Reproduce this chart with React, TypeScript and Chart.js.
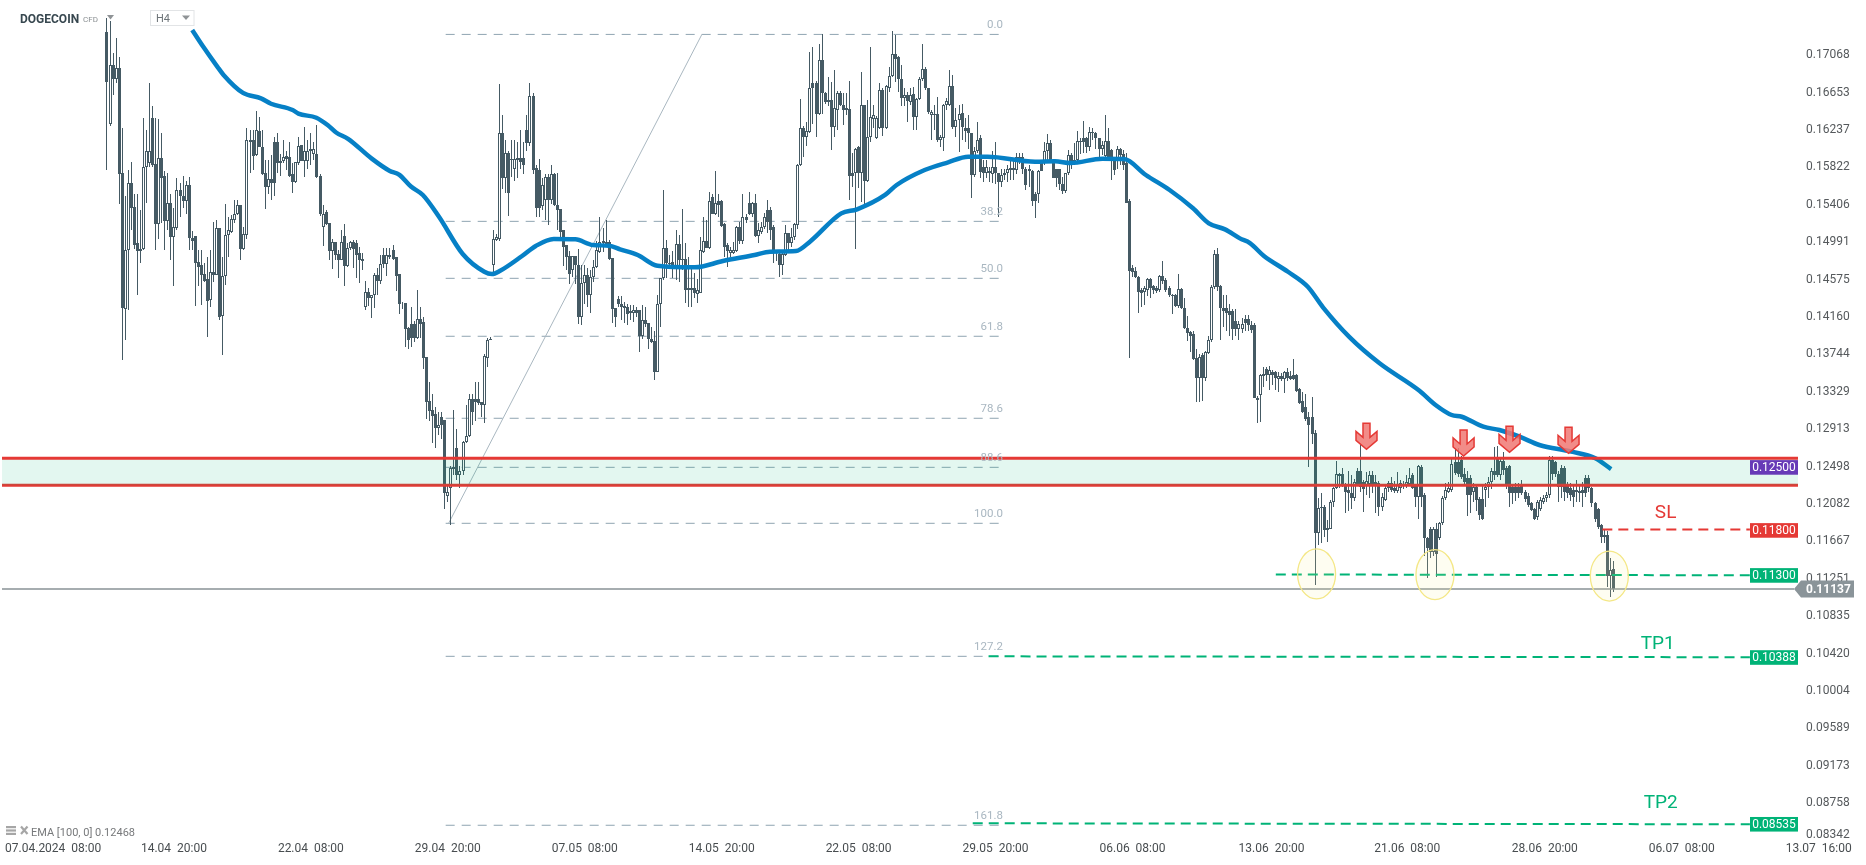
import React, { useEffect, useRef } from "react";
import { Chart, registerables } from "chart.js";

Chart.register(...registerables);

// Candle rows are [open, high, low, close], in units of 0.0001 price.
const PRICE_UNIT = 1e-4;

const candlesRunA = [
[1733,1748,1579,1677],[1631,1745,1628,1696],[1696,1709,1663,1681],[1681,1726,1676,1693],[1693,1705,1542,1575],[1576,1626,1368,1426],[1425,1550,1390,1490],[1490,1579,1424,1565],[1565,1588,1513,1537],[1538,1553,1492,1496],
[1498,1553,1440,1489],[1489,1535,1476,1492],[1492,1637,1490,1583],[1583,1624,1543,1600],[1587,1676,1583,1600],[1637,1650,1583,1585],[1586,1637,1490,1519],[1519,1636,1503,1593],[1593,1620,1520,1571],[1573,1578,1490,1523],
[1523,1576,1513,1543],[1543,1553,1479,1505],[1505,1537,1450,1516],[1515,1570,1513,1557],[1557,1565,1527,1550],[1551,1573,1537,1545],[1545,1567,1530,1563],[1563,1572,1490,1504],[1504,1512,1490,1500],[1506,1506,1428,1476],
[1477,1490,1450,1472],[1474,1490,1429,1463],[1464,1476,1455,1456],[1458,1483,1394,1434],[1435,1490,1427,1466],[1466,1522,1455,1463],[1463,1524,1463,1515],[1515,1515,1413,1416],[1417,1483,1374,1462],[1462,1542,1452,1507],
[1507,1527,1483,1513],[1511,1529,1509,1525],[1524,1546,1520,1530],[1531,1546,1529,1540],[1540,1540,1479,1492],[1492,1516,1490,1508],[1507,1626,1503,1613],[1613,1624,1576,1610],[1613,1624,1579,1595],[1596,1645,1595,1624],
[1623,1638,1605,1605],[1605,1624,1574,1575],[1576,1590,1536,1561],[1561,1590,1553,1569],[1569,1596,1546,1565],[1611,1616,1551,1565],[1611,1620,1576,1587],[1587,1597,1573,1589],[1589,1613,1587,1594],[1595,1601,1579,1592],
[1594,1611,1572,1573],[1575,1587,1554,1566],[1566,1588,1565,1588],[1587,1616,1585,1606],[1607,1607,1589,1589],[1589,1627,1572,1601],[1589,1613,1580,1601],[1603,1620,1585,1600],[1597,1610,1590,1603],[1597,1629,1570,1572],
];

const candlesRunB = [
[1573,1575,1528,1531],[1516,1540,1495,1531],[1533,1535,1518,1519],[1520,1520,1479,1489],[1489,1503,1469,1499],[1499,1499,1479,1485],[1486,1490,1459,1479],[1479,1513,1479,1499],[1506,1519,1450,1473],[1473,1498,1472,1493],
[1493,1500,1490,1499],[1499,1502,1470,1492],[1498,1502,1459,1485],[1487,1494,1454,1479],[1481,1487,1468,1478],[1427,1456,1424,1444],[1444,1448,1428,1437],[1437,1440,1415,1440],[1440,1465,1426,1463],[1463,1471,1440,1456],
[1456,1485,1453,1475],[1485,1493,1471,1475],[1475,1493,1462,1485],[1483,1493,1480,1485],[1491,1496,1479,1481],[1483,1483,1445,1462],[1464,1464,1419,1431],[1431,1433,1425,1430],[1432,1432,1383,1403],[1404,1405,1381,1391],
[1408,1427,1383,1393],[1408,1412,1388,1393],[1393,1446,1392,1414],[1414,1427,1393,1408],[1410,1416,1358,1370],[1372,1372,1303,1322],[1323,1344,1301,1312],[1313,1330,1276,1306],[1308,1316,1270,1293],[1293,1310,1285,1296],
[1305,1310,1280,1296],[1302,1302,1203,1220],[1217,1230,1210,1222],[1226,1250,1185,1248],[1247,1313,1240,1249],[1271,1292,1235,1240],[1240,1250,1226,1245],[1245,1278,1240,1277],[1277,1318,1276,1284],[1284,1330,1283,1325],
[1325,1330,1296,1310],[1325,1344,1301,1322],[1325,1344,1318,1320],[1322,1322,1305,1318],[1318,1375,1298,1373],[1371,1393,1361,1391],[1391,1394,1390,1392],
];

const candlesRunC = [
[1474,1513,1462,1503],[1502,1508,1500,1505],[1503,1675,1500,1620],[1620,1641,1558,1570],[1570,1613,1554,1598],[1598,1600,1528,1554],[1590,1613,1572,1592],[1580,1613,1567,1592],[1590,1610,1570,1593],[1593,1624,1580,1588],
[1593,1610,1575,1585],[1624,1640,1600,1609],[1609,1676,1606,1662],[1662,1665,1575,1579],[1582,1585,1527,1537],
];

const candlesRunD = [
[1579,1592,1527,1537],[1539,1570,1535,1563],[1546,1575,1524,1572],[1572,1575,1518,1546],[1546,1585,1542,1575],[1575,1576,1539,1540],[1541,1576,1513,1535],[1536,1536,1505,1511],[1513,1513,1473,1494],[1496,1496,1468,1483],
[1484,1489,1453,1464],[1468,1484,1461,1484],[1484,1484,1453,1474],[1474,1492,1408,1416],[1416,1474,1407,1454],[1454,1474,1431,1463],[1463,1470,1427,1441],[1440,1468,1420,1461],[1461,1479,1455,1472],[1472,1501,1470,1490],
[1488,1527,1487,1499],[1498,1515,1488,1500],[1497,1524,1494,1499],[1499,1502,1479,1481],[1482,1482,1409,1425],[1426,1426,1405,1416],[1436,1439,1427,1430],[1431,1439,1413,1427],[1428,1433,1409,1426],[1427,1431,1407,1419],
[1420,1429,1413,1423],[1420,1429,1411,1424],[1424,1427,1416,1421],[1424,1424,1377,1395],[1395,1429,1392,1413],[1413,1427,1405,1408],[1409,1409,1381,1392],[1392,1405,1387,1388],[1389,1400,1346,1355],[1355,1440,1355,1431],
[1431,1459,1405,1459],[1459,1557,1457,1493],[1493,1502,1459,1476],[1476,1485,1470,1475],[1477,1489,1459,1469],[1469,1513,1457,1497],[1497,1507,1455,1479],[1481,1536,1468,1479],[1481,1498,1432,1446],[1446,1483,1427,1448],
[1446,1470,1427,1448],[1448,1465,1437,1443],[1442,1458,1432,1446],[1443,1505,1443,1490],[1488,1527,1487,1500],[1500,1524,1493,1493],[1493,1555,1492,1545],[1549,1553,1530,1530],[1530,1578,1529,1543],[1545,1553,1527,1540],
[1545,1546,1516,1517],[1519,1520,1483,1494],[1496,1498,1472,1489],[1487,1494,1483,1490],[1487,1499,1486,1490],[1489,1517,1488,1516],[1516,1522,1497,1500],[1500,1553,1497,1527],[1527,1530,1520,1524],[1543,1555,1529,1530],
[1530,1544,1527,1543],[1543,1553,1505,1506],[1506,1521,1498,1513],
];

const candlesRunE = [
[1511,1522,1508,1516],[1516,1532,1514,1527],[1535,1546,1509,1522],[1535,1538,1502,1513],[1516,1518,1476,1489],[1490,1490,1478,1488],[1486,1490,1461,1474],[1474,1488,1463,1486],[1485,1518,1484,1509],[1509,1509,1487,1498],
[1498,1515,1494,1505],[1505,1520,1502,1519],[1518,1586,1514,1585],[1585,1658,1584,1626],[1626,1628,1594,1616],[1616,1633,1606,1623],[1622,1711,1620,1671],[1676,1716,1631,1670],[1676,1678,1616,1642],[1642,1719,1640,1702],
[1702,1730,1642,1665],[1665,1666,1653,1655],[1655,1683,1650,1657],[1657,1677,1602,1627],[1627,1690,1616,1648],[1646,1667,1624,1665],[1665,1667,1650,1652],[1652,1665,1629,1646],[1646,1665,1640,1648],[1647,1678,1546,1573],
[1576,1598,1561,1573],[1576,1604,1492,1603],[1605,1606,1559,1576],[1576,1688,1544,1652],[1652,1652,1537,1567],[1567,1657,1566,1616],[1616,1716,1611,1638],[1636,1652,1626,1641],[1615,1639,1614,1637],[1626,1676,1625,1668],
[1668,1670,1617,1626],[1626,1674,1625,1673],[1671,1694,1666,1684],[1684,1734,1683,1708],[1708,1729,1677,1703],[1705,1706,1666,1680],[1681,1696,1650,1659],[1659,1670,1650,1663],[1663,1666,1633,1656],[1655,1670,1652,1663],
[1664,1672,1624,1638],[1638,1659,1624,1658],[1658,1683,1657,1681],[1680,1719,1678,1692],[1692,1694,1668,1670],[1670,1670,1642,1644],[1641,1646,1613,1644],[1642,1652,1624,1640],[1642,1661,1611,1613],[1613,1618,1605,1616],
[1615,1653,1600,1652],[1652,1659,1646,1656],[1652,1691,1650,1673],[1673,1685,1625,1627],[1627,1648,1616,1635],[1635,1652,1599,1642],[1643,1653,1613,1627],[1626,1637,1610,1623],[1626,1640,1603,1620],[1621,1621,1548,1574],
[1574,1605,1572,1601],[1600,1633,1598,1613],
];

const candlesRunF = [
[1615,1618,1570,1577],[1583,1590,1566,1576],[1576,1590,1570,1583],[1576,1583,1566,1578],[1575,1600,1565,1583],[1583,1610,1564,1576],[1576,1576,1527,1566],[1566,1581,1560,1574],[1574,1581,1568,1576],[1576,1585,1566,1580],
[1579,1590,1568,1582],[1582,1592,1568,1579],[1579,1598,1575,1594],[1594,1598,1586,1590],[1594,1598,1575,1580],[1581,1583,1557,1563],[1581,1585,1560,1578],[1578,1579,1539,1545],[1553,1555,1526,1545],[1553,1579,1543,1578],
[1589,1590,1578,1578],[1587,1610,1585,1601],[1600,1619,1590,1609],[1609,1613,1588,1590],[1590,1591,1570,1571],[1580,1581,1560,1571],[1580,1581,1557,1564],[1564,1572,1553,1556],[1556,1576,1554,1576],[1576,1602,1574,1596],
[1596,1598,1581,1587],[1587,1609,1585,1590],[1590,1623,1589,1612],[1610,1615,1597,1612],[1615,1634,1598,1611],[1615,1616,1598,1605],[1605,1627,1601,1622],[1622,1626,1613,1620],[1621,1622,1603,1615],[1615,1615,1594,1603],
[1603,1612,1596,1607],[1595,1641,1594,1612],[1612,1626,1592,1594],[1602,1603,1568,1590],[1590,1594,1574,1579],[1589,1606,1581,1603],[1603,1604,1585,1596],[1597,1602,1579,1585],[1587,1598,1543,1543],[1545,1547,1370,1467],
[1470,1474,1461,1466],[1467,1472,1459,1460],[1461,1462,1420,1444],[1446,1448,1427,1443],[1444,1450,1429,1448],[1446,1459,1439,1458],[1458,1459,1437,1448],[1450,1452,1442,1446],[1448,1450,1443,1445],[1446,1463,1444,1462],
[1462,1478,1453,1456],[1457,1459,1444,1446],[1448,1450,1438,1440],[1440,1442,1419,1439],[1440,1442,1427,1428],[1428,1464,1426,1447],[1447,1448,1425,1426],[1426,1437,1403,1404],[1404,1417,1389,1398],[1399,1401,1377,1395],
[1397,1401,1368,1369],[1370,1381,1322,1348],
];

const candlesRunG = [
[1348,1375,1322,1372],[1374,1376,1323,1348],[1348,1378,1345,1377],[1376,1395,1375,1390],[1390,1452,1388,1449],[1449,1491,1447,1486],[1486,1493,1445,1449],[1450,1452,1390,1426],[1426,1440,1405,1423],[1426,1440,1400,1421],
[1423,1430,1395,1418],[1423,1425,1390,1403],[1412,1425,1395,1403],[1403,1412,1390,1408],[1403,1415,1398,1408],[1414,1418,1400,1409],[1414,1418,1400,1407],[1407,1412,1398,1402],[1407,1409,1326,1326],[1326,1328,1298,1324],
[1329,1353,1299,1352],[1350,1360,1338,1353],[1358,1361,1345,1352],[1352,1362,1335,1357],[1355,1357,1340,1352],[1355,1356,1335,1348],[1347,1355,1333,1350],[1350,1354,1345,1347],[1347,1356,1332,1355],[1355,1359,1345,1348],
[1350,1356,1346,1347],[1352,1369,1346,1347],[1352,1353,1333,1334],[1336,1337,1319,1321],[1323,1333,1309,1310],[1316,1330,1300,1303],[1305,1310,1249,1296],[1305,1327,1275,1286],[1287,1290,1118,1176],[1176,1215,1163,1204],
[1205,1220,1165,1204],[1205,1207,1172,1179],[1182,1190,1166,1179],[1181,1213,1180,1211],[1210,1227,1205,1226],[1226,1256,1225,1242],[1242,1243,1226,1239],[1242,1248,1227,1228],[1228,1232,1220,1226],
];

const candlesRunH = [
[1228,1230,1198,1222],[1224,1245,1200,1221],[1221,1240,1203,1215],[1215,1236,1212,1233],[1245,1248,1228,1230],[1245,1275,1222,1227],[1233,1235,1199,1225],[1228,1244,1218,1234],[1231,1245,1215,1240],[1240,1245,1220,1231],
[1231,1240,1198,1233],[1232,1234,1195,1205],[1205,1220,1200,1216],[1213,1230,1212,1226],[1232,1234,1222,1226],[1232,1238,1222,1224],[1226,1234,1220,1223],[1223,1244,1221,1231],[1226,1235,1220,1232],[1231,1234,1225,1229],
[1229,1240,1226,1233],[1231,1248,1228,1237],[1240,1243,1225,1226],[1228,1230,1205,1216],[1216,1252,1192,1250],
];

const candlesRunI = [
[1249,1252,1205,1216],[1218,1220,1150,1170],[1171,1172,1126,1159],[1181,1183,1148,1155],[1155,1183,1150,1181],[1181,1187,1127,1153],[1170,1188,1168,1187],[1187,1217,1185,1215],[1215,1232,1213,1224],[1222,1233,1220,1226],
[1224,1258,1222,1253],[1255,1270,1240,1243],[1255,1270,1238,1242],[1257,1262,1236,1238],[1242,1248,1230,1233],[1237,1245,1195,1218],[1237,1240,1198,1218],[1222,1232,1210,1227],[1227,1230,1200,1213],[1214,1216,1190,1196],
[1214,1228,1190,1192],[1224,1232,1205,1227],[1227,1238,1215,1233],[1233,1248,1225,1245],[1245,1272,1235,1240],[1261,1273,1238,1240],[1240,1258,1235,1256],[1256,1266,1240,1246],[1248,1250,1225,1230],[1250,1252,1205,1220],[1227,1230,1208,1220],
[1227,1232,1212,1220],[1227,1232,1215,1221],[1228,1235,1218,1221],[1222,1224,1210,1214],[1217,1220,1205,1207],[1209,1210,1200,1202],[1203,1204,1190,1192],[1194,1213,1190,1211],[1203,1216,1200,1213],[1211,1218,1208,1215],
[1215,1222,1210,1218],[1218,1262,1215,1257],[1257,1262,1235,1242],[1255,1256,1238,1242],[1242,1245,1210,1227],[1248,1252,1215,1227],[1248,1250,1212,1222],[1231,1233,1215,1220],[1226,1232,1212,1218],[1224,1228,1205,1216],
[1222,1235,1210,1224],[1223,1230,1210,1220],[1224,1233,1205,1220],[1237,1240,1216,1220],[1237,1241,1222,1226],[1226,1227,1205,1209],[1209,1210,1188,1192],[1203,1204,1180,1183],[1185,1186,1165,1172],[1174,1179,1165,1172],[1174,1178,1116,1128],
[1128,1148,1105,1135],[1136,1145,1111,1114],
];

const candleRunStarts = [23, 93, 150, 165, 238, 310, 382, 430, 455];
const candleRuns = [candlesRunA, candlesRunB, candlesRunC, candlesRunD, candlesRunE, candlesRunF, candlesRunG, candlesRunH, candlesRunI];

const emaSteps = [51,54.7,59.3,61.3,67.7,73.6,76.9,84,85.9,91.8,95.6,98.3,102.2,110,115.8,119.1,122.9,126.8,132.1,139.9,147,149.5,152.2,159.4,163.9,169.8,176.9,182.7,188,191.6,197.4,203.9,216.2,225.4,235.8,240.9,249.4,254,264.3,269.5,278.7,282.5,291.7,299.4,306,312.4,328,334.5,339.7,350.1,357.2,364.4,372.2,379.9,385.1,390.4,395.3,398.6,403.2,411.1,417.6,422.6,431.4,441.2,454.3,459.6,464.9,468.2,475.3,480.6,487.2,493.7,504.2,512.1,517.3];
const emaPrices = [.1735,.1716,.1694,.1685,.1665,.1659,.1653,.1646,.1642,.16374,.1629,.1621,.1614,.1592,.15786,.1574,.1561,.15516,.15274,.1486,.14663,.14638,.14674,.14838,.1495,.15027,.15023,.1496,.14952,.14912,.14849,.1473,.14712,.14782,.14849,.14886,.14893,.14997,.15312,.15357,.15516,.15627,.15793,.15879,.15941,.15941,.15886,.1589,.15871,.15919,.15915,.15738,.15571,.15368,.15201,.15134,.15034,.14982,.14838,.14663,.14497,.14268,.13934,.13646,.13341,.13183,.13071,.13052,.12941,.12905,.1283,.12738,.12664,.1259,.1247];

const fibLabels = ["0.0","38.2","50.0","61.8","78.6","88.6","100.0","127.2","161.8"];
const fibPrices = [.1730,.15223,.1459,.13946,.13035,.1249,.11868,.1039,.08513];
const fibStartStep = 134.3;
const fibEndStep = 316.4;
const fibTrendSteps = [135.3, 218.5];
const fibTrendPrices = [.1187, .1730];

const zoneUpper = .1259;
const zoneLower = .1229;
const zoneSteps = [-11.5, 578.7];
const lastPrice = .11137;
const lastPriceSteps = [-11.5, 577.4];

const slSteps = [514.4, 562.9];
const slPrices = [.1180, .1180];
const entrySteps = [407.1, 562.9];
const entryPrices = [.1130, .1129];
const tp1Steps = [312.7, 562.9];
const tp1Prices = [.1039, .1038];
const tp2Steps = [307.5, 562.9];
const tp2Prices = [.08535, .08524];

const tagLabels = ["0.12500","0.11800","0.11300","0.10388","0.08535"];
const tagPrices = [.125,.118,.113,.10388,.08535];
const tagColors = ["#673ab7","#e53935","#00b377","#00b377","#00b377"];

const noteTexts = ["SL","TP1","TP2"];
const noteSteps = [535.2,532.6,533.6];
const notePrices = [.1198,.10525,.08758];
const noteColors = ["#e53935","#00b377","#00b377"];

const arrowSteps = [436.9,468.8,483.9,503.3];
const arrowPrices = [.1269,.12616,.12657,.12646];

const ellipseSteps = [420.5,459.4,516.7];
const ellipsePrices = [.11305,.11297,.11282];

const yTickLabels = ["0.17068","0.16653","0.16237","0.15822","0.15406","0.14991","0.14575","0.14160","0.13744","0.13329","0.12913","0.12498","0.12082","0.11667","0.11251","0.10835","0.10420","0.10004","0.09589","0.09173","0.08758","0.08342"];
const yTickPositions = [.17068,.16653,.16237,.15822,.15406,.14991,.14575,.1416,.13744,.13329,.12913,.12498,.12082,.11667,.11251,.10835,.1042,.10004,.09589,.09173,.08758,.08405];
const xTickLabels = ["07.04.2024  08:00","14.04  20:00","22.04  08:00","29.04  20:00","07.05  08:00","14.05  20:00","22.05  08:00","29.05  20:00","06.06  08:00","13.06  20:00","21.06  08:00","28.06  20:00","06.07  08:00","13.07  16:00"];
const xTickPositions = [5.3,45,90,135,180,225,270,315,360,405.7,450.3,495.5,540.5,585.5];

const DARK = "#455a64";
const FONT = "Roboto";

const pts = (xs: number[], ys: number[]) => xs.map((x, i) => ({ x, y: ys[i] }));

export default function App() {
  const ref = useRef<HTMLCanvasElement>(null);
  useEffect(() => {
    document.body.style.margin = "0";
    document.body.style.overflow = "hidden";
    const candles: any[] = [];
    candleRuns.forEach((rows, k) => rows.forEach((r, i) => candles.push({ t: candleRunStarts[k] + i, o: r[0] * PRICE_UNIT, h: r[1] * PRICE_UNIT, l: r[2] * PRICE_UNIT, c: r[3] * PRICE_UNIT })));

    const lineDs = (data: any[], color: string, width: number, order: number, extra: any = {}) => ({
      type: "line", data, borderColor: color, borderWidth: width, pointRadius: 0, tension: 0, order, fill: false, ...extra,
    });

    const datasets: any[] = [
      ...fibPrices.map((p) => lineDs(pts([fibStartStep, fibEndStep], [p, p]), "#8fa4b1", 1, 20, { borderDash: [9, 7] })),
      lineDs(pts(fibTrendSteps, fibTrendPrices), "#a9b7c0", 1, 19),
      { type: "bar", grouped: false, order: 15, barThickness: 1, backgroundColor: DARK, borderWidth: 0, inflateAmount: 0, data: candles.map((d) => ({ x: d.t, y: [d.l, d.h] })) },
      { type: "bar", grouped: false, order: 14, barThickness: 3, backgroundColor: "#ffffff", borderColor: DARK, borderWidth: 1, borderSkipped: false, inflateAmount: 0, data: candles.filter((d) => d.c >= d.o).map((d) => ({ x: d.t, y: [d.o, d.c] })) },
      { type: "bar", grouped: false, order: 13, barThickness: 3, backgroundColor: DARK, borderColor: DARK, borderWidth: 1, borderSkipped: false, inflateAmount: 0, data: candles.filter((d) => d.c < d.o).map((d) => ({ x: d.t, y: [d.o, d.c] })) },
      lineDs(pts(emaSteps, emaPrices), "#0680c6", 4.5, 10, { cubicInterpolationMode: "monotone" }),
      lineDs(pts(lastPriceSteps, [lastPrice, lastPrice]), "#899296", 1.5, 9),
      lineDs(pts(zoneSteps, [zoneUpper, zoneUpper]), "#e53935", 3, 5, { fill: { target: "+1" }, backgroundColor: "rgba(0,179,119,0.11)" }),
      lineDs(pts(zoneSteps, [zoneLower, zoneLower]), "#e53935", 3, 5),
      lineDs(pts(slSteps, slPrices), "#e53935", 2, 4, { borderDash: [10, 6] }),
      lineDs(pts(entrySteps, entryPrices), "#00b377", 2, 4, { borderDash: [10, 6] }),
      lineDs(pts(tp1Steps, tp1Prices), "#00b377", 2, 4, { borderDash: [10, 6] }),
      lineDs(pts(tp2Steps, tp2Prices), "#00b377", 2, 4, { borderDash: [10, 6] }),
    ];

    // keeps one-pixel candle wicks and borders crisp on the pixel grid
    const snapBars = {
      id: "snapBars",
      afterDatasetsUpdate(c: any) {
        c.getSortedVisibleDatasetMetas().filter((m: any) => m.type === "bar").forEach((m: any) => {
          m.data.forEach((el: any) => {
            el.x = Math.floor(el.x) + 0.5;
            el.y = Math.round(el.y);
            el.base = Math.round(el.base);
          });
        });
      },
    };

    const overlay = {
      id: "overlay",
      afterDraw(c: any) {
        const g = c.ctx;
        const X = (t: number) => c.scales.x.getPixelForValue(t);
        const Y = (p: number) => c.scales.y.getPixelForValue(p);
        g.save();
        ellipseSteps.forEach((t, i) => {
          g.beginPath();
          g.ellipse(X(t), Y(ellipsePrices[i]), 19, 25, 0, 0, Math.PI * 2);
          g.fillStyle = "rgba(250,240,150,0.13)";
          g.fill();
          g.strokeStyle = "#f4e786";
          g.lineWidth = 1.3;
          g.stroke();
        });
        arrowSteps.forEach((t, i) => {
          const x = X(t), y = Y(arrowPrices[i]);
          const s: number[][] = [[-3.5,-26],[3.5,-26],[3.5,-12],[10.5,-18],[10.5,-9],[0,0],[-10.5,-9],[-10.5,-18],[-3.5,-12]];
          g.beginPath();
          s.forEach(([a, b], k) => (k ? g.lineTo(x + a, y + b) : g.moveTo(x + a, y + b)));
          g.closePath();
          g.fillStyle = "rgba(240,120,115,0.85)";
          g.fill();
          g.strokeStyle = "#e53935";
          g.lineWidth = 1.5;
          g.stroke();
        });
        g.textBaseline = "middle";
        g.textAlign = "right";
        g.font = `11.5px ${FONT}`;
        g.fillStyle = "#a9b7c1";
        fibLabels.forEach((s, i) => g.fillText(s, 1003, Y(fibPrices[i]) - 9));
        g.textAlign = "center";
        g.font = `12px ${FONT}`;
        tagLabels.forEach((s, i) => {
          const cy = Y(tagPrices[i]) + 1;
          g.fillStyle = tagColors[i];
          g.fillRect(1750, cy - 7.3, 48, 14.6);
          g.fillStyle = "#ffffff";
          g.fillText(s, 1774, cy + 0.5);
        });
        const ly = Y(lastPrice);
        g.fillStyle = "#8a9499";
        g.beginPath();
        g.moveTo(1794, ly);
        g.lineTo(1801, ly - 8.5);
        g.lineTo(1854, ly - 8.5);
        g.lineTo(1854, ly + 8.5);
        g.lineTo(1801, ly + 8.5);
        g.closePath();
        g.fill();
        g.fillStyle = "#ffffff";
        g.font = `bold 12px ${FONT}`;
        g.textAlign = "left";
        g.fillText(lastPrice.toFixed(5), 1806, ly + 0.5);
        g.textAlign = "center";
        g.font = `19px ${FONT}`;
        noteTexts.forEach((s, i) => {
          g.fillStyle = noteColors[i];
          g.fillText(s, X(noteSteps[i]), Y(notePrices[i]));
        });
        g.textAlign = "left";
        g.fillStyle = "#37474f";
        g.font = `bold 12px ${FONT}`;
        g.fillText("DOGECOIN", 20, 19.5);
        g.fillStyle = "#8a8f92";
        g.font = `8px ${FONT}`;
        g.fillText("CFD", 83, 20);
        const tri = (x0: number, x1: number, y0: number, y1: number) => {
          g.fillStyle = "#8f9396";
          g.beginPath();
          g.moveTo(x0, y0);
          g.lineTo(x1, y0);
          g.lineTo((x0 + x1) / 2, y1);
          g.closePath();
          g.fill();
        };
        tri(107, 114, 15, 19.5);
        g.fillStyle = "#ffffff";
        g.fillRect(150, 10, 44, 15);
        g.strokeStyle = "#e2e4e6";
        g.lineWidth = 1;
        g.strokeRect(150.5, 10.5, 43.5, 15);
        g.fillStyle = "#6d7478";
        g.font = `11px ${FONT}`;
        g.fillText("H4", 156, 19);
        tri(182, 190, 15.5, 20);
        g.fillStyle = "#a6a6a6";
        g.fillRect(6, 826, 10, 2.2);
        g.fillRect(6, 829.4, 10, 2.2);
        g.fillRect(6, 832.8, 10, 2.2);
        g.strokeStyle = "#a6a6a6";
        g.lineWidth = 2.2;
        g.beginPath();
        g.moveTo(21, 826.5);
        g.lineTo(27.5, 834);
        g.moveTo(27.5, 826.5);
        g.lineTo(21, 834);
        g.stroke();
        g.fillStyle = "#77797b";
        g.font = `11px ${FONT}`;
        g.fillText("EMA [100, 0] 0.12468", 31, 833.5);
        g.restore();
      },
    };

    const chart = new Chart(ref.current!, {
      type: "bar",
      data: { datasets },
      plugins: [snapBars, overlay],
      options: {
        animation: false,
        responsive: false,
        devicePixelRatio: 1,
        layout: { padding: 0 },
        plugins: { legend: { display: false }, tooltip: { enabled: false } },
        scales: {
          x: {
            type: "linear",
            min: -12.16,
            max: 601.05,
            offset: false,
            grid: { display: false, drawTicks: false },
            border: { display: false },
            afterBuildTicks: (s: any) => { s.ticks = xTickPositions.map((value) => ({ value })); },
            afterFit: (s: any) => { s.height = 24; s.paddingLeft = 0; s.paddingRight = 0; },
            ticks: {
              autoSkip: false, maxRotation: 0, minRotation: 0, padding: 1,
              color: "#484d50", font: { family: FONT, size: 12 },
              callback: (_v: any, i: number) => xTickLabels[i],
            },
          },
          y: {
            type: "linear",
            position: "left",
            min: 0.083381,
            max: 0.176824,
            grid: { display: false, drawTicks: false },
            border: { display: false },
            afterBuildTicks: (s: any) => { s.ticks = yTickPositions.map((value) => ({ value })); },
            afterFit: (s: any) => { s.width = 0; s.paddingTop = 0; s.paddingBottom = 0; },
            ticks: {
              autoSkip: false, mirror: true, padding: 1806,
              color: "#55595c", font: { family: FONT, size: 12 },
              callback: (_v: any, i: number) => yTickLabels[i],
            },
          },
        },
      } as any,
    } as any);
    return () => chart.destroy();
  }, []);
  return (
    <div style={{ position: "absolute", left: 0, top: 0, width: 1866, height: 865, background: "#fff" }}>
      <canvas ref={ref} width={1866} height={865} style={{ display: "block", width: 1866, height: 865 }} />
    </div>
  );
}
